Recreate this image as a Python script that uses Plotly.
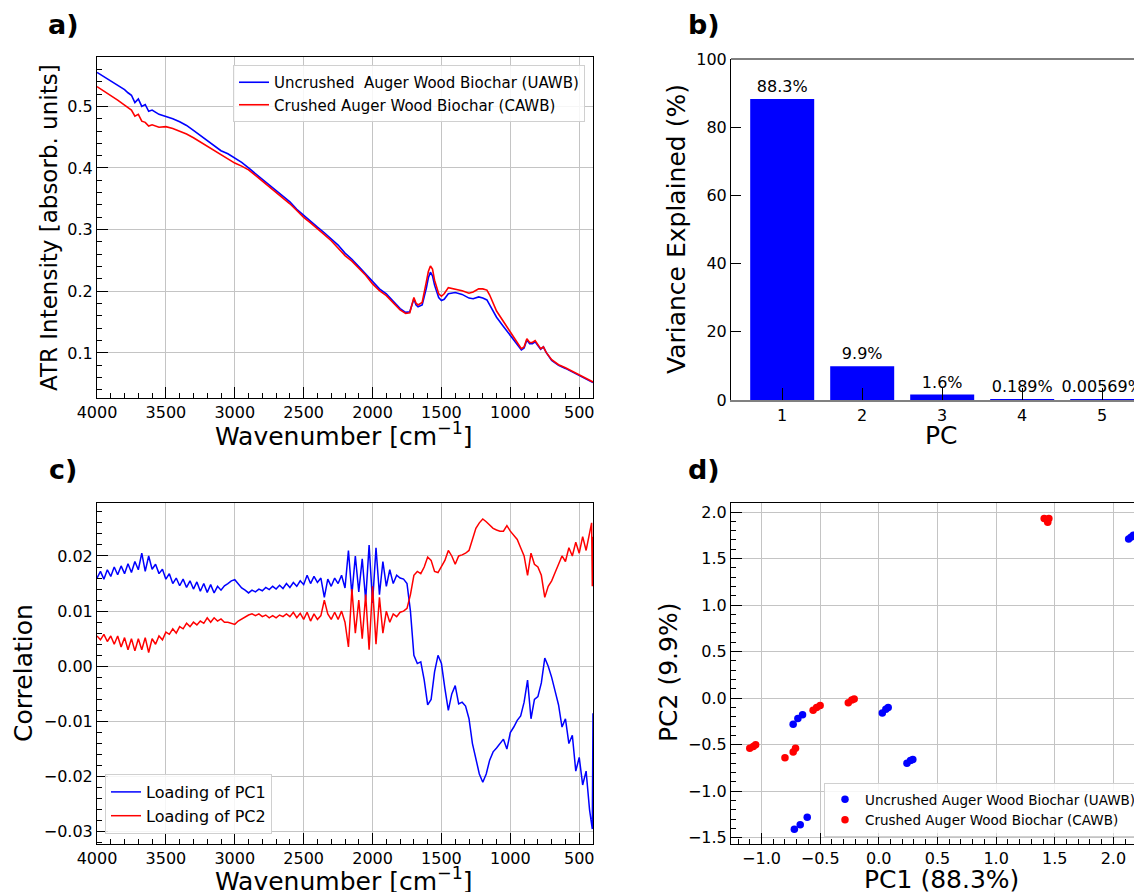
import plotly.graph_objects as go

# ---------------- Panel a: ATR spectra ----------------
wn_a = [4000, 3950, 3900, 3850, 3800,
        3775, 3750, 3725, 3700, 3675,
        3650, 3625, 3600, 3550, 3500,
        3450, 3400, 3350, 3300, 3250,
        3200, 3150, 3100, 3050, 3000,
        2950, 2900, 2850, 2800, 2750,
        2700, 2650, 2600, 2550, 2500,
        2450, 2400, 2350, 2300, 2250,
        2200, 2150, 2100, 2050, 2000,
        1950, 1900, 1850, 1800, 1760,
        1730, 1700, 1685, 1670, 1640,
        1610, 1595, 1580, 1565, 1550,
        1520, 1500, 1480, 1450, 1400,
        1350, 1300, 1270, 1230, 1200,
        1170, 1150, 1100, 1050, 1000,
        950, 920, 900, 880, 860,
        840, 820, 800, 780, 760,
        740, 700, 650, 600, 550,
        500, 450, 400]

uawb = [0.555, 0.548, 0.540, 0.534, 0.527,
        0.522, 0.518, 0.506, 0.512, 0.500,
        0.503, 0.492, 0.494, 0.487, 0.484,
        0.480, 0.475, 0.469, 0.461, 0.453,
        0.444, 0.436, 0.428, 0.423, 0.416,
        0.409, 0.400, 0.391, 0.382, 0.373,
        0.364, 0.355, 0.345, 0.333, 0.323,
        0.313, 0.304, 0.295, 0.285, 0.275,
        0.262, 0.252, 0.240, 0.228, 0.215,
        0.204, 0.196, 0.184, 0.172, 0.166,
        0.167, 0.188, 0.178, 0.175, 0.178,
        0.205, 0.222, 0.231, 0.225, 0.210,
        0.190, 0.185, 0.187, 0.196, 0.198,
        0.195, 0.189, 0.188, 0.191, 0.189,
        0.186, 0.178, 0.158, 0.143, 0.128,
        0.114, 0.105, 0.108, 0.121, 0.115,
        0.115, 0.118, 0.112, 0.106, 0.110,
        0.101, 0.088, 0.080, 0.075, 0.069,
        0.063, 0.057, 0.052]

cawb = [0.532, 0.525, 0.518, 0.510, 0.502,
        0.498, 0.494, 0.484, 0.487, 0.476,
        0.474, 0.468, 0.470, 0.466, 0.467,
        0.464, 0.460, 0.455, 0.449, 0.442,
        0.435, 0.428, 0.421, 0.414, 0.408,
        0.403, 0.397, 0.388, 0.379, 0.370,
        0.361, 0.352, 0.342, 0.331, 0.320,
        0.311, 0.302, 0.292, 0.282, 0.270,
        0.258, 0.249, 0.237, 0.226, 0.212,
        0.201, 0.193, 0.182, 0.170, 0.164,
        0.165, 0.190, 0.181, 0.178, 0.182,
        0.215, 0.232, 0.241, 0.236, 0.218,
        0.196, 0.192, 0.196, 0.206, 0.204,
        0.201, 0.197, 0.199, 0.204, 0.204,
        0.202, 0.194, 0.168, 0.150, 0.134,
        0.117, 0.107, 0.110, 0.123, 0.117,
        0.117, 0.120, 0.113, 0.107, 0.110,
        0.101, 0.089, 0.081, 0.076, 0.070,
        0.064, 0.058, 0.053]

# ---------------- Panel b: explained variance ----------------
pcs = [1, 2, 3, 4, 5]
variance = [88.3, 9.9, 1.6, 0.189, 0.00569]
variance_labels = ["88.3%", "9.9%", "1.6%", "0.189%", "0.00569%"]

# ---------------- Panel c: loadings ----------------
wn_c = list(range(4000, 400, -25)) + [410, 405, 400]

loading_pc1 = [0.0160, 0.0172, 0.0158, 0.0175, 0.0163, 0.0180, 0.0166, 0.0182, 0.0168, 0.0186,
               0.0170, 0.0190, 0.0175, 0.0205, 0.0172, 0.0200, 0.0176, 0.0185, 0.0168, 0.0176,
               0.0158, 0.0168, 0.0150, 0.0160, 0.0146, 0.0158, 0.0143, 0.0155, 0.0140, 0.0153,
               0.0136, 0.0150, 0.0134, 0.0148, 0.0133, 0.0145, 0.0138, 0.0146, 0.0150, 0.0155,
               0.0157, 0.0150, 0.0142, 0.0138, 0.0133, 0.0138, 0.0135, 0.0140, 0.0137, 0.0143,
               0.0139, 0.0145, 0.0140, 0.0147, 0.0141, 0.0150, 0.0143, 0.0152, 0.0145, 0.0155,
               0.0148, 0.0165, 0.0150, 0.0163, 0.0152, 0.0160, 0.0125, 0.0158, 0.0145, 0.0160,
               0.0150, 0.0165, 0.0142, 0.0210, 0.0130, 0.0200, 0.0135, 0.0195, 0.0120, 0.0220,
               0.0115, 0.0215, 0.0130, 0.0190, 0.0145, 0.0175, 0.0150, 0.0165, 0.0160, 0.0158,
               0.0150, 0.0100, 0.0020, 0.0005, 0.0008, -0.0025, -0.0070, -0.0060, -0.0010, 0.0020,
               0.0005, -0.0040, -0.0080, -0.0050, -0.0035, -0.0068, -0.0065, -0.0072, -0.0095, -0.0140,
               -0.0170, -0.0195, -0.0210, -0.0195, -0.0170, -0.0155, -0.0148, -0.0140, -0.0132, -0.0150,
               -0.0120, -0.0110, -0.0098, -0.0090, -0.0065, -0.0025, -0.0095, -0.0060, -0.0055, -0.0030,
               0.0015, 0.0000, -0.0020, -0.0045, -0.0070, -0.0110, -0.0095, -0.0140, -0.0125, -0.0190,
               -0.0165, -0.0215, -0.0190, -0.0260,
               -0.0285, -0.0295, -0.0085]

loading_pc2 = [0.0055, 0.0048, 0.0058, 0.0045, 0.0055, 0.0040, 0.0055, 0.0035, 0.0052, 0.0030,
               0.0050, 0.0028, 0.0050, 0.0030, 0.0052, 0.0025, 0.0050, 0.0040, 0.0055, 0.0048,
               0.0062, 0.0058, 0.0068, 0.0060, 0.0072, 0.0068, 0.0078, 0.0072, 0.0080, 0.0075,
               0.0082, 0.0078, 0.0088, 0.0080, 0.0088, 0.0082, 0.0086, 0.0080, 0.0080, 0.0078,
               0.0076, 0.0082, 0.0086, 0.0090, 0.0093, 0.0095, 0.0092, 0.0095, 0.0090, 0.0093,
               0.0088, 0.0092, 0.0088, 0.0093, 0.0090, 0.0095, 0.0090, 0.0098, 0.0088, 0.0096,
               0.0085, 0.0098, 0.0082, 0.0095, 0.0085, 0.0092, 0.0120, 0.0095, 0.0085, 0.0098,
               0.0085, 0.0100, 0.0080, 0.0035, 0.0140, 0.0060, 0.0120, 0.0050, 0.0130, 0.0030,
               0.0145, 0.0040, 0.0125, 0.0060, 0.0100, 0.0080, 0.0095, 0.0090, 0.0098, 0.0100,
               0.0105, 0.0130, 0.0165, 0.0172, 0.0168, 0.0180, 0.0198, 0.0192, 0.0172, 0.0170,
               0.0180, 0.0192, 0.0210, 0.0200, 0.0185, 0.0200, 0.0202, 0.0205, 0.0210, 0.0230,
               0.0250, 0.0260, 0.0267, 0.0262, 0.0255, 0.0250, 0.0247, 0.0245, 0.0245, 0.0255,
               0.0245, 0.0238, 0.0230, 0.0215, 0.0200, 0.0165, 0.0205, 0.0185, 0.0180, 0.0165,
               0.0125, 0.0145, 0.0155, 0.0170, 0.0185, 0.0200, 0.0190, 0.0215, 0.0200, 0.0225,
               0.0205, 0.0235, 0.0210, 0.0245,
               0.0260, 0.0145, 0.0235]

# ---------------- Panel d: scores ----------------
uawb_pc1 = [2.13, 2.15, 2.17, -0.73, -0.69, -0.65, 0.03, 0.06, 0.08, 0.24, 0.27, 0.29, -0.72, -0.67, -0.61]
uawb_pc2 = [1.71, 1.73, 1.75, -0.28, -0.22, -0.18, -0.16, -0.12, -0.10, -0.70, -0.67, -0.66, -1.41, -1.36, -1.28]
cawb_pc1 = [1.41, 1.44, 1.45, -1.10, -1.07, -1.05, -0.80, -0.73, -0.71, -0.56, -0.53, -0.50, -0.26, -0.23, -0.21]
cawb_pc2 = [1.93, 1.89, 1.93, -0.54, -0.52, -0.50, -0.64, -0.58, -0.54, -0.13, -0.10, -0.08, -0.05, -0.02, -0.01]

BLUE = "#0000ff"
RED = "#ff0000"
FONT = "DejaVu Sans"
OFF = 8                      # page body margin in the browser
W, H = 1142 - OFF, 892 - OFF


def px(x):
    return (x - OFF) / W


def py(y):
    return 1 - (y - OFF) / H


fig = go.Figure()

# a
fig.add_trace(go.Scatter(x=wn_a, y=uawb, mode="lines", line=dict(color=BLUE, width=1.6),
                         name="Uncrushed\u00a0 Auger Wood Biochar (UAWB)", xaxis="x", yaxis="y", legend="legend"))
fig.add_trace(go.Scatter(x=wn_a, y=cawb, mode="lines", line=dict(color=RED, width=1.6),
                         name="Crushed Auger Wood Biochar (CAWB)", xaxis="x", yaxis="y", legend="legend"))
# b
fig.add_trace(go.Bar(x=pcs, y=variance, text=variance_labels, textposition="outside", constraintext="none",
                     textfont=dict(size=16, color="black", family=FONT), marker=dict(color=BLUE, line=dict(width=0)),
                     width=0.8, cliponaxis=False, showlegend=False, xaxis="x2", yaxis="y2"))
# c
fig.add_trace(go.Scatter(x=wn_c, y=loading_pc1, mode="lines", line=dict(color=BLUE, width=1.5),
                         name="Loading of PC1", xaxis="x3", yaxis="y3", legend="legend2"))
fig.add_trace(go.Scatter(x=wn_c, y=loading_pc2, mode="lines", line=dict(color=RED, width=1.5),
                         name="Loading of PC2", xaxis="x3", yaxis="y3", legend="legend2"))
# d
fig.add_trace(go.Scatter(x=uawb_pc1, y=uawb_pc2, mode="markers", marker=dict(color=BLUE, size=7.5),
                         name="Uncrushed Auger Wood Biochar (UAWB)", xaxis="x4", yaxis="y4", legend="legend3"))
fig.add_trace(go.Scatter(x=cawb_pc1, y=cawb_pc2, mode="markers", marker=dict(color=RED, size=7.5),
                         name="Crushed Auger Wood Biochar (CAWB)", xaxis="x4", yaxis="y4", legend="legend3"))

GRID = "#c4c4c4"
tickfont = dict(size=16, family=FONT, color="black")


def ax(domain, rng, dtick, fmt, minor_dtick, anchor, grid=True, mirror=True, ticklen=11,
       showline=True, linecolor="black", linewidth=1):
    d = dict(domain=domain, range=rng, dtick=dtick, tick0=0, tickformat=fmt,
             ticks="inside", ticklen=ticklen, tickwidth=1, tickcolor="black",
             showline=showline, linecolor=linecolor, linewidth=linewidth, mirror=mirror,
             showgrid=grid, gridcolor=GRID, gridwidth=1, zeroline=False, automargin=False,
             tickfont=tickfont, anchor=anchor)
    if minor_dtick:
        d["minor"] = dict(dtick=minor_dtick, ticks="inside", ticklen=5, tickcolor="black", showgrid=False)
    return d


xa_dom = [px(97), px(593)]
xb_dom = [px(731), 1.0]
top_dom = [py(398), py(57)]
bot_dom = [py(844), py(503)]
b_scale = 80.0      # px per PC unit
d_scale = 117.3     # px per PC1 unit

legend_common = dict(xref="paper", yref="paper", bgcolor="rgba(255,255,255,0.85)",
                     bordercolor="#d0d0d0", borderwidth=1, tracegroupgap=0)

layout = dict(
    width=W, height=H, margin=dict(l=0, r=0, t=0, b=0, autoexpand=False),
    paper_bgcolor="white", plot_bgcolor="white",
    font=dict(family=FONT, color="black"),
    xaxis=ax(xa_dom, [4000, 400], 500, "d", 100, "y"),
    yaxis=ax(top_dom, [0.027, 0.58], 0.1, ".1f", 0.02, "x"),
    xaxis2=ax(xb_dom, [0.36, 0.36 + (1142 - 731) / b_scale], 1, "d", None, "y2", grid=False, mirror=False,
              ticklen=12, linecolor="#808080", linewidth=2),
    yaxis2=ax([py(400), py(59)], [0, 100], 20, "d", None, "x2", grid=False, mirror=False, ticklen=10),
    xaxis3=ax(xa_dom, [4000, 400], 500, "d", 100, "y3"),
    yaxis3=ax(bot_dom, [-0.0322, 0.0296], 0.01, ".2f", 0.002, "x3"),
    xaxis4=ax(xb_dom, [-1.26, -1.26 + (1142 - 731) / d_scale], 0.5, ".1f", 0.1, "y4", mirror=True),
    yaxis4=ax(bot_dom, [-1.568, 2.097], 0.5, ".1f", 0.1, "x4", mirror=False),
    legend=dict(x=px(585), y=py(65), xanchor="right", yanchor="top",
                font=dict(size=15, family=FONT, color="black"), **legend_common),
    legend2=dict(x=px(105), y=py(834), xanchor="left", yanchor="bottom",
                 font=dict(size=16, family=FONT, color="black"), **legend_common),
    legend3=dict(x=px(824), y=py(837), xanchor="left", yanchor="bottom",
                 font=dict(size=13.5, family=FONT, color="black"), **legend_common),
    bargap=0.2,
    shapes=[dict(type="line", xref="x2 domain", yref="y2 domain", x0=0, x1=1, y0=1, y1=1,
                 line=dict(color="black", width=1))],
)
fig.update_layout(**layout)

ann = []


def add_text(text, x, y, size=25, angle=0, bold=False):
    t = f"<b>{text}</b>" if bold else text
    ann.append(dict(text=t, x=px(x), y=py(y), xref="paper", yref="paper", showarrow=False,
                    xanchor="center", yanchor="middle", textangle=angle,
                    font=dict(size=size, family=FONT, color="black")))


add_text("a)", 63, 24, size=27, bold=True)
add_text("b)", 704, 24, size=27, bold=True)
add_text("c)", 63, 469, size=27, bold=True)
add_text("d)", 704, 469, size=27, bold=True)

add_text("ATR Intensity [absorb. units]", 49, 228, size=23, angle=-90)
add_text("Wavenumber [cm<sup>−1</sup>]", 344, 434, size=25)
add_text("Variance Explained (%)", 676, 229, angle=-90)
add_text("PC", 941, 435)
add_text("Correlation", 23, 673, angle=-90)
add_text("Wavenumber [cm<sup>−1</sup>]", 344, 879, size=25)
add_text("PC2 (9.9%)", 668, 673, angle=-90)
add_text("PC1 (88.3%)", 941, 879)

fig.update_layout(annotations=ann)
fig.write_html("out.html")
